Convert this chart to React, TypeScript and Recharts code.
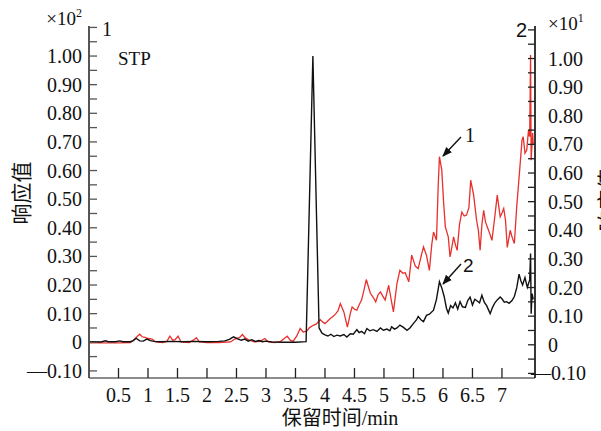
import React from "react";
import { LineChart, Line, XAxis, YAxis } from "recharts";

// black trace (left axis, x10^2)
const blackT = [
  0, 0.1, 0.2, 0.28, 0.33, 0.45, 0.52, 0.58, 0.7, 0.75, 0.8, 0.86, 0.92, 0.98, 1.04, 1.1, 1.2, 1.4, 1.6, 1.8,
  2.0, 2.2, 2.3, 2.38, 2.45, 2.52, 2.58, 2.64, 2.7, 2.76, 2.82, 2.88, 2.94, 3.0, 3.1, 3.3, 3.5, 3.68, 3.795, 3.9,
  3.95, 4.0, 4.05, 4.1, 4.15, 4.2, 4.26, 4.32, 4.37, 4.43, 4.48, 4.54, 4.58, 4.62, 4.67, 4.71, 4.76, 4.82, 4.88, 4.94,
  4.99, 5.05, 5.1, 5.13, 5.18, 5.22, 5.27, 5.33, 5.39, 5.44, 5.5, 5.55, 5.58, 5.63, 5.67, 5.72, 5.77, 5.84, 5.89, 5.94,
  5.98, 6.02, 6.06, 6.09, 6.13, 6.17, 6.21, 6.25, 6.29, 6.33, 6.38, 6.42, 6.46, 6.5, 6.54, 6.57, 6.62, 6.66, 6.7, 6.74,
  6.8, 6.84, 6.88, 6.92, 6.97, 7.0, 7.04, 7.08, 7.12, 7.17, 7.21, 7.25, 7.29, 7.32, 7.35, 7.39, 7.43, 7.47, 7.485, 7.495,
  7.51, 7.53,
];
const blackV = [
  0.002, 0.002, 0.001, 0.005, 0.002, 0.002, 0.005, 0.002, 0.002, 0.006, 0.014, 0.005, 0.004, 0.011, 0.006, 0.003, 0.002, 0.003, 0.002, 0.003,
  0.002, 0.003, 0.005, 0.01, 0.019, 0.012, 0.007, 0.011, 0.004, 0.009, 0.003, 0.006, 0.002, 0.004, 0.001, 0.0, 0.0, 0.002, 1.0, 0.05,
  0.032, 0.026, 0.022, 0.028, 0.02, 0.025, 0.022, 0.027, 0.018, 0.03, 0.028, 0.044, 0.034, 0.038, 0.03, 0.048, 0.04, 0.044, 0.038, 0.05,
  0.042, 0.046, 0.04, 0.054, 0.046, 0.05, 0.06, 0.052, 0.042, 0.05, 0.066, 0.078, 0.09, 0.078, 0.072, 0.094, 0.098, 0.112, 0.15, 0.212,
  0.19, 0.16, 0.118, 0.102, 0.128, 0.12, 0.138, 0.116, 0.142, 0.124, 0.122, 0.146, 0.158, 0.13, 0.15, 0.146, 0.138, 0.164, 0.14, 0.128,
  0.1, 0.122, 0.138, 0.148, 0.158, 0.152, 0.14, 0.142, 0.136, 0.146, 0.16, 0.19, 0.238, 0.215, 0.2, 0.226, 0.192, 0.218, 0.31, 0.1,
  0.17, 0.15,
];

// red trace (right axis, x10^1)
const redT = [
  0, 0.25, 0.5, 0.7, 0.75, 0.82, 0.86, 0.9, 0.95, 1.0, 1.07, 1.13, 1.25, 1.32, 1.37, 1.42, 1.46, 1.51, 1.56, 1.7,
  1.78, 1.82, 1.87, 2.0, 2.2, 2.4, 2.47, 2.55, 2.6, 2.65, 2.72, 2.8, 2.9, 2.98, 3.04, 3.15, 3.25, 3.32, 3.36, 3.41,
  3.46, 3.52, 3.58, 3.63, 3.69, 3.74, 3.8, 3.85, 3.92, 3.96, 4.0, 4.05, 4.09, 4.14, 4.18, 4.22, 4.26, 4.32, 4.38, 4.43,
  4.46, 4.5, 4.54, 4.58, 4.62, 4.66, 4.7, 4.74, 4.77, 4.82, 4.86, 4.9, 4.94, 4.98, 5.02, 5.08, 5.12, 5.16, 5.22, 5.27,
  5.32, 5.36, 5.42, 5.47, 5.5, 5.53, 5.58, 5.63, 5.67, 5.72, 5.77, 5.81, 5.84, 5.89, 5.92, 5.94, 5.98, 6.01, 6.04, 6.09,
  6.12, 6.15, 6.18, 6.21, 6.24, 6.28, 6.32, 6.36, 6.4, 6.44, 6.47, 6.52, 6.57, 6.6, 6.63, 6.66, 6.69, 6.72, 6.75, 6.79,
  6.83, 6.88, 6.92, 6.97, 7.0, 7.03, 7.06, 7.09, 7.14, 7.17, 7.21, 7.25, 7.3, 7.34, 7.36, 7.39, 7.42, 7.45, 7.47, 7.485,
  7.495, 7.52, 7.53,
];
const redV = [
  0.007, 0.007, 0.007, 0.008, 0.015, 0.03, 0.037, 0.028, 0.026, 0.022, 0.02, 0.01, 0.008, 0.012, 0.03, 0.016, 0.018, 0.03, 0.01, 0.008,
  0.018, 0.025, 0.01, 0.008, 0.008, 0.01, 0.02, 0.025, 0.036, 0.024, 0.016, 0.01, 0.012, 0.022, 0.01, 0.008, 0.012, 0.024, 0.03, 0.016,
  0.012, 0.03, 0.057, 0.045, 0.048, 0.06, 0.068, 0.072, 0.088, 0.08, 0.074, 0.084, 0.092, 0.1, 0.108, 0.118, 0.144, 0.115, 0.062, 0.11,
  0.132, 0.124, 0.121, 0.14, 0.156, 0.19, 0.228, 0.2, 0.18, 0.165, 0.15, 0.175, 0.185, 0.17, 0.156, 0.208, 0.16, 0.115, 0.214, 0.26,
  0.25, 0.252, 0.22, 0.313, 0.295, 0.275, 0.266, 0.31, 0.342, 0.313, 0.26, 0.35, 0.394, 0.365, 0.56, 0.657, 0.61, 0.5, 0.412, 0.377,
  0.307, 0.34, 0.377, 0.35, 0.33, 0.42, 0.464, 0.45, 0.453, 0.48, 0.575, 0.523, 0.435, 0.4, 0.33, 0.42, 0.47, 0.43, 0.412, 0.39,
  0.365, 0.45, 0.523, 0.447, 0.46, 0.476, 0.435, 0.34, 0.4, 0.377, 0.354, 0.482, 0.61, 0.715, 0.727, 0.669, 0.68, 0.75, 0.727, 1.012,
  0.645, 0.74, 0.7,
];

const xTicks = [0.5, 1, 1.5, 2, 2.5, 3, 3.5, 4, 4.5, 5, 5.5, 6, 6.5, 7];
const yTicks = [
  -0.1, -0.05, 0, 0.05, 0.1, 0.15, 0.2, 0.25, 0.3, 0.35, 0.4, 0.45, 0.5, 0.55, 0.6, 0.65, 0.7, 0.75, 0.8, 0.85,
  0.9, 0.95, 1.0, 1.05, 1.1,
];

const blackData = blackT.map((t, i) => ({ t, v: blackV[i] }));
const redData = redT.map((t, i) => ({ t, v: redV[i] }));

const FONT = "Liberation Serif, Times New Roman, DejaVu Serif, serif";
const CJK = "Liberation Serif, Noto Sans CJK SC, serif";

function isLabelled(v: number) {
  return Math.abs(v * 10 - Math.round(v * 10)) < 1e-6 && v < 1.05;
}
function fmtY(v: number) {
  if (Math.abs(v) < 1e-9) return "0";
  if (v < 0) return "\u2014" + Math.abs(v).toFixed(2);
  return v.toFixed(2);
}

function LeftTick(props: any) {
  const { y, payload } = props;
  const v = payload.value;
  return (
    <g>
      <line x1={89} x2={97} y1={y} y2={y} stroke="#555" strokeWidth={1.3} />
      {isLabelled(v) && (
        <text x={82} y={y} dy="0.35em" textAnchor="end" fontFamily={FONT} fontSize={20} fill="#111">
          {fmtY(v)}
        </text>
      )}
    </g>
  );
}

function RightTick(props: any) {
  const { y, payload } = props;
  const v = payload.value;
  return (
    <g>
      <line x1={528} x2={535} y1={y} y2={y} stroke="#222" strokeWidth={1.3} />
      {isLabelled(v) && (
        <text x={v < 0 ? 531 : 548} y={y} dy="0.35em" textAnchor="start" fontFamily={FONT} fontSize={20} fill="#111">
          {fmtY(v)}
        </text>
      )}
    </g>
  );
}

function BottomTick(props: any) {
  const { x, payload } = props;
  return (
    <g>
      <line x1={x} x2={x} y1={378} y2={368} stroke="#222" strokeWidth={1.3} />
      <text x={x} y={402} textAnchor="middle" fontFamily={FONT} fontSize={20} fill="#111">
        {String(payload.value)}
      </text>
    </g>
  );
}

export default function App() {
  return (
    <div style={{ position: "absolute", left: 0, top: 0, width: 601, height: 431, background: "#fff", overflow: "hidden" }}>
      <LineChart width={601} height={431} margin={{ top: 26, right: 0, bottom: 0, left: 0 }}>
        <XAxis
          type="number"
          dataKey="t"
          domain={[0, 7.56]}
          ticks={xTicks}
          interval={0}
          height={53}
          tick={<BottomTick />}
          tickLine={false}
          axisLine={{ stroke: "#666", strokeWidth: 1.6 }}
          allowDataOverflow
        />
        <YAxis
          yAxisId="left"
          type="number"
          domain={[-0.1248, 1.105]}
          ticks={yTicks}
          interval={0}
          width={89}
          tick={<LeftTick />}
          tickLine={false}
          axisLine={{ stroke: "#555", strokeWidth: 2 }}
          allowDataOverflow
        />
        <YAxis
          yAxisId="right"
          orientation="right"
          type="number"
          domain={[-0.116, 1.1136]}
          ticks={yTicks}
          interval={0}
          width={66}
          tick={<RightTick />}
          tickLine={false}
          axisLine={{ stroke: "#222", strokeWidth: 1.8 }}
          allowDataOverflow
        />
        <Line
          yAxisId="right"
          data={redData}
          dataKey="v"
          type="linear"
          stroke="#e8302c"
          strokeWidth={1.3}
          dot={false}
          isAnimationActive={false}
        />
        <Line
          yAxisId="left"
          data={blackData}
          dataKey="v"
          type="linear"
          stroke="#111"
          strokeWidth={1.4}
          dot={false}
          isAnimationActive={false}
        />
      </LineChart>
      <svg
        width={601}
        height={431}
        style={{ position: "absolute", left: 0, top: 0, pointerEvents: "none" }}
      >
        <defs>
          <marker id="arr" viewBox="0 0 10 10" refX="9" refY="5" markerWidth="7" markerHeight="7" orient="auto">
            <path d="M0,1 L10,5 L0,9 z" fill="#111" />
          </marker>
        </defs>
        <text x={82} y={25} textAnchor="end" fontFamily={FONT} fontSize={19} fill="#111">
          ×10<tspan dy={-8} fontSize={12}>2</tspan>
        </text>
        <text x={102} y={36} fontFamily={FONT} fontSize={20} fill="#111">1</text>
        <text x={118} y={65} fontFamily={FONT} fontSize={19} fill="#111">STP</text>
        <text x={516} y={37} fontFamily="Liberation Sans, Arial, sans-serif" fontSize={20} fill="#111">2</text>
        <text x={548} y={30} fontFamily={FONT} fontSize={19} fill="#111">
          ×10<tspan dy={-8} fontSize={12}>1</tspan>
        </text>
        <text x={465} y={142} fontFamily={FONT} fontSize={20} fill="#111">1</text>
        <line x1={461} y1={137} x2={443} y2={156} stroke="#111" strokeWidth={1.4} markerEnd="url(#arr)" />
        <text x={463} y={272} fontFamily="Liberation Sans, Arial, sans-serif" fontSize={19} fill="#111">2</text>
        <line x1={461} y1={264} x2={443} y2={284} stroke="#111" strokeWidth={1.4} markerEnd="url(#arr)" />
        <text
          x={22}
          y={193}
          transform="rotate(-90 22 193)"
          textAnchor="middle"
          dominantBaseline="central"
          fontFamily={CJK}
          fontSize={21}
          fill="#111"
        >
          响应值
        </text>
        <text
          x={608}
          y={200}
          transform="rotate(-90 608 200)"
          textAnchor="middle"
          dominantBaseline="central"
          fontFamily={CJK}
          fontSize={21}
          fill="#111"
        >
          响应值
        </text>
        <text x={340} y={425} textAnchor="middle" fontFamily={CJK} fontSize={20} fill="#111">
          保留时间/min
        </text>
      </svg>
    </div>
  );
}
